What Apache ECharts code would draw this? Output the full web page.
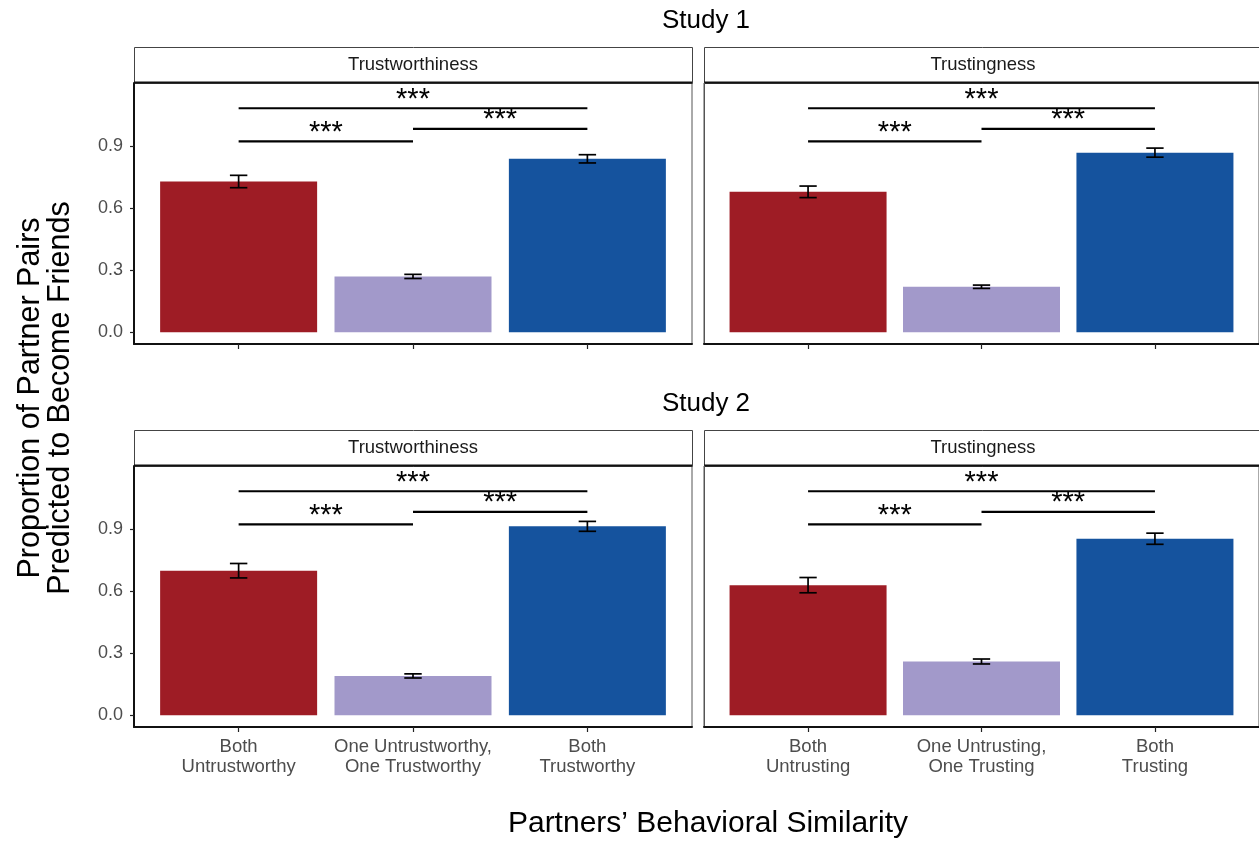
<!DOCTYPE html>
<html>
<head>
<meta charset="utf-8">
<title>Partners' Behavioral Similarity</title>
<script src="https://cdn.jsdelivr.net/npm/echarts@6/dist/echarts.min.js"></script>
<style>
  html, body { margin: 0; padding: 0; background: #fff; }
  #main { width: 1259px; height: 841px; }
</style>
</head>
<body>
<div id="main"></div>
<script>
// data
var studies = ['Study 1', 'Study 2'];
var traits = ['Trustworthiness', 'Trustingness'];
var catsWorthy = ['Both\nUntrustworthy', 'One Untrustworthy,\nOne Trustworthy', 'Both\nTrustworthy'];
var catsTrusting = ['Both\nUntrusting', 'One Untrusting,\nOne Trusting', 'Both\nTrusting'];
var yTicks = [0, 0.3, 0.6, 0.9];

// means and error half-widths, panel order: S1 worthy, S1 trusting, S2 worthy, S2 trusting
var s1Worthy = [0.73, 0.27, 0.84];
var s1WorthyErr = [0.03, 0.01, 0.02];
var s1Trusting = [0.68, 0.22, 0.87];
var s1TrustingErr = [0.028, 0.008, 0.022];
var s2Worthy = [0.70, 0.19, 0.915];
var s2WorthyErr = [0.035, 0.01, 0.024];
var s2Trusting = [0.63, 0.26, 0.855];
var s2TrustingErr = [0.037, 0.012, 0.027];

// significance brackets: [from, to, height]
var brackets = [[1, 2, 0.925], [2, 3, 0.985], [1, 3, 1.085]];
var sigLabel = '***';

var barColors = ['#9e1c25', '#a299ca', '#15539e'];

var panels = [
  { means: s1Worthy, errs: s1WorthyErr, cats: catsWorthy, left: 134, top: 83, showY: true, showX: false, strip: traits[0] },
  { means: s1Trusting, errs: s1TrustingErr, cats: catsTrusting, left: 704, top: 83, showY: false, showX: false, strip: traits[1] },
  { means: s2Worthy, errs: s2WorthyErr, cats: catsWorthy, left: 134, top: 466, showY: true, showX: true, strip: traits[0] },
  { means: s2Trusting, errs: s2TrustingErr, cats: catsTrusting, left: 704, top: 466, showY: false, showX: true, strip: traits[1] }
];

var PW = 558, PH = 261;
var font = '"Liberation Sans", Arial, sans-serif';

var myChart = echarts.init(document.getElementById('main'));

var grid = [], xAxis = [], yAxis = [], series = [], graphic = [];

panels.forEach(function (p, i) {
  grid.push({
    left: p.left, top: p.top, width: PW, height: PH,
    show: true, borderColor: '#555', borderWidth: 1, backgroundColor: '#fff'
  });
  xAxis.push({
    gridIndex: i, type: 'value', min: 0.4, max: 3.6,
    splitLine: { show: false },
    axisLine: { show: true, onZero: false, lineStyle: { color: '#111', width: 2 } },
    axisTick: { show: true, length: 5, customValues: [1, 2, 3], lineStyle: { color: '#222', width: 1.2 } },
    axisLabel: {
      show: p.showX, customValues: [1, 2, 3], margin: 10,
      color: '#4d4d4d', fontSize: 18.5, lineHeight: 20, fontFamily: font,
      formatter: function (v) { return p.cats[Math.round(v) - 1] || ''; }
    }
  });
  yAxis.push({
    gridIndex: i, type: 'value', min: -0.0575, max: 1.2075,
    splitLine: { show: false },
    axisLine: { show: true, onZero: false, lineStyle: { color: p.showY ? '#111' : '#555', width: p.showY ? 2 : 1 } },
    axisTick: { show: p.showY, length: 4, customValues: yTicks, lineStyle: { color: '#222', width: 1.2 } },
    axisLabel: {
      show: p.showY, customValues: yTicks, margin: 11,
      color: '#4d4d4d', fontSize: 18, fontFamily: font,
      formatter: function (v) { return v.toFixed(1); }
    }
  });

  series.push({
    type: 'bar', xAxisIndex: i, yAxisIndex: i,
    barWidth: 157,
    data: p.means.map(function (m, k) {
      return { value: [k + 1, m], itemStyle: { color: barColors[k] } };
    }),
    silent: true
  });

  series.push({
    type: 'custom', xAxisIndex: i, yAxisIndex: i,
    data: p.means.map(function (m, k) { return [k + 1, m, p.errs[k]]; }),
    encode: { x: 0, y: 1 },
    renderItem: function (params, api) {
      var x = api.value(0), m = api.value(1), e = api.value(2);
      var hi = api.coord([x, m + e]);
      var lo = api.coord([x, m - e]);
      var half = api.size([0.1, 0])[0] / 2;
      var st = { stroke: '#000', lineWidth: 1.7 };
      return {
        type: 'group',
        children: [
          { type: 'line', shape: { x1: hi[0], y1: hi[1], x2: lo[0], y2: lo[1] }, style: st },
          { type: 'line', shape: { x1: hi[0] - half, y1: hi[1], x2: hi[0] + half, y2: hi[1] }, style: st },
          { type: 'line', shape: { x1: lo[0] - half, y1: lo[1], x2: lo[0] + half, y2: lo[1] }, style: st }
        ]
      };
    },
    z: 5
  });

  series.push({
    type: 'custom', xAxisIndex: i, yAxisIndex: i,
    data: brackets,
    encode: { x: [0, 1], y: 2 },
    renderItem: function (params, api) {
      var a = api.coord([api.value(0), api.value(2)]);
      var b = api.coord([api.value(1), api.value(2)]);
      return {
        type: 'group',
        children: [
          { type: 'line', shape: { x1: a[0], y1: a[1], x2: b[0], y2: b[1] }, style: { stroke: '#000', lineWidth: 2.2 } },
          {
            type: 'text', x: (a[0] + b[0]) / 2, y: a[1] + 6,
            style: { text: sigLabel, fill: '#000', font: '29px ' + font, align: 'center', verticalAlign: 'bottom' }
          }
        ]
      };
    },
    z: 6
  });

  // facet strip
  graphic.push({
    type: 'rect', left: p.left, top: p.top - 36,
    shape: { width: PW, height: 36 },
    style: { fill: '#fff', stroke: '#444', lineWidth: 1 }
  });
  graphic.push({
    type: 'line',
    shape: { x1: p.left, y1: p.top - 0.5, x2: p.left + PW, y2: p.top - 0.5 },
    style: { stroke: '#111', lineWidth: 2 }
  });
  graphic.push({
    type: 'text', x: p.left + PW / 2, y: p.top - 18,
    style: { text: p.strip, fill: '#1a1a1a', font: '18.5px ' + font, align: 'center', verticalAlign: 'middle' }
  });
});

// study titles
graphic.push({
  type: 'text', x: 706, y: 21,
  style: { text: studies[0], fill: '#000', font: '26px ' + font, align: 'center', verticalAlign: 'middle' }
});
graphic.push({
  type: 'text', x: 706, y: 404,
  style: { text: studies[1], fill: '#000', font: '26px ' + font, align: 'center', verticalAlign: 'middle' }
});
// axis titles
graphic.push({
  type: 'text', x: 46, y: 398, rotation: Math.PI / 2,
  style: {
    text: 'Proportion of Partner Pairs\nPredicted to Become Friends',
    fill: '#000', font: '30.5px ' + font, lineHeight: 30, align: 'center', verticalAlign: 'middle'
  }
});
graphic.push({
  type: 'text', x: 708, y: 824,
  style: { text: 'Partners\u2019 Behavioral Similarity', fill: '#000', font: '30px ' + font, align: 'center', verticalAlign: 'middle' }
});

var option = {
  backgroundColor: '#fff',
  animation: false,
  grid: grid,
  xAxis: xAxis,
  yAxis: yAxis,
  series: series,
  graphic: graphic
};

myChart.setOption(option);
</script>
</body>
</html>
